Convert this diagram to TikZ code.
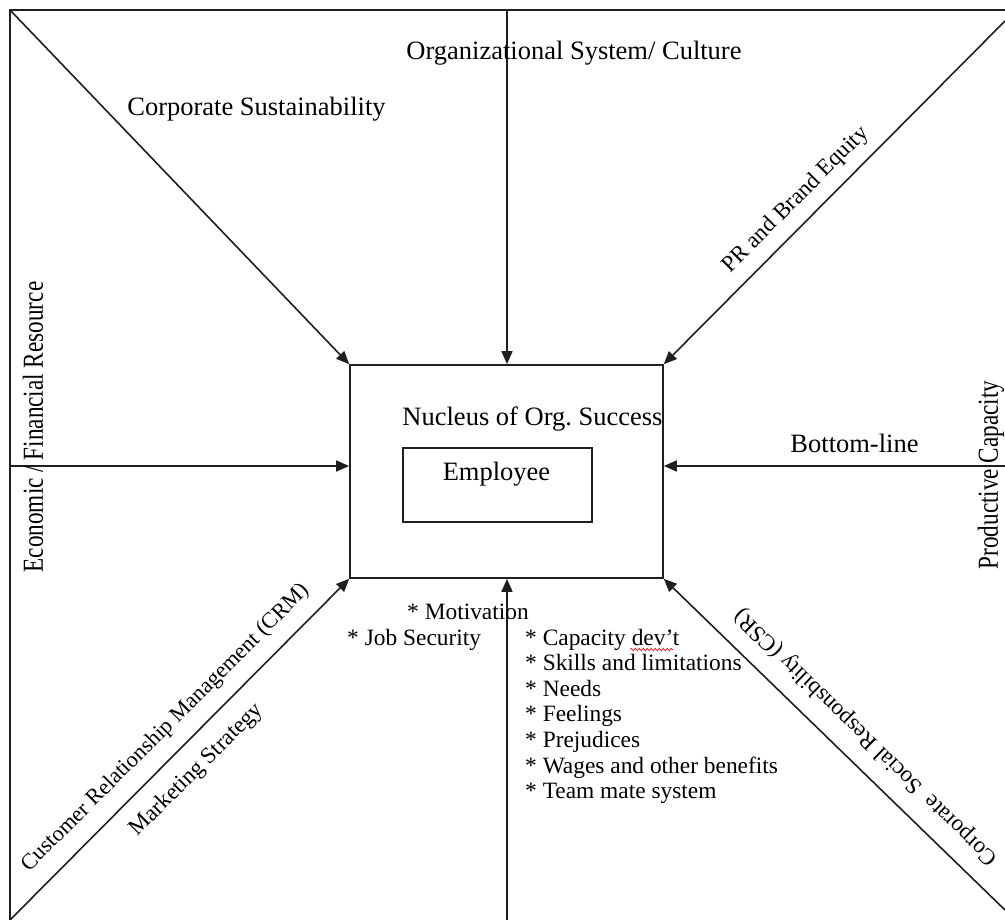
\documentclass[tikz,border=0pt]{standalone}
\usepackage{fontspec}
\setmainfont{Liberation Serif}
\usetikzlibrary{arrows.meta,decorations.pathmorphing}
\frenchspacing
\begin{document}
\begin{tikzpicture}[x=1pt,y=-1pt,
  ln/.style={line width=1.6pt, draw=black!88},
  arr/.style={ln, -{Triangle[length=13pt,width=11pt]}},
  boxed/.style={draw=black!88, line width=1.6pt, inner sep=0pt},
  lbl/.style={font=\fontsize{26.5}{30}\selectfont, inner sep=0pt},
  dlbl/.style={font=\fontsize{23}{28}\selectfont, inner sep=0pt},
  vlbl/.style={font=\fontsize{29}{32}\selectfont, inner sep=0pt, rotate=90},
  lst/.style={font=\fontsize{23.4}{25.6}\selectfont, inner sep=0pt, anchor=base west},
]
\useasboundingbox (0,0) rectangle (1005,920);
\fill[white] (0,0) rectangle (1005,920);

% frame (top and left edges)
\coordinate (TL) at (10,10);
\coordinate (TE) at (1005,10);
\coordinate (BLE) at (10,920);
\draw[ln] (TE) -- (TL) -- (BLE);

% central boxes
\node[boxed, minimum width=313pt, minimum height=213pt] (nuc) at (506.5,471.5) {};
\node[boxed, minimum width=189pt, minimum height=74pt] (emp) at (497.5,485) {};

% arrow start points
\coordinate (T) at (507,10);
\coordinate (TR) at (1005,21);
\coordinate (L) at (10,466);
\coordinate (R) at (1005,466);
\coordinate (BL) at (10,920);
\coordinate (B) at (507,920);
\coordinate (BR) at (1005,910);

\draw[arr] (TL) -- (nuc.north west);
\draw[arr] (T) -- (T |- nuc.north);
\draw[arr] (TR) -- (nuc.north east);
\draw[arr] (L) -- (L -| nuc.west);
\draw[arr] (R) -- (R -| nuc.east);
\draw[arr] (BL) -- (nuc.south west);
\draw[arr] (B) -- (B |- nuc.south);
\draw[arr] (BR) -- (nuc.south east);

% texts in the boxes
\node[lbl, anchor=base] (nuctxt) at (532.5,425) {Nucleus of Org. Success};
\node[lbl, anchor=base] (emptxt) at (496.5,480) {Employee};

% horizontal labels
\node[lbl, anchor=base] (org) at (574,60) {Organizational System/ Culture};
\node[lbl, anchor=base] (cs) at (256.5,116) {Corporate Sustainability};
\node[lbl, anchor=base] (bl) at (854.5,452) {Bottom-line};

% vertical labels
\node[vlbl] (eco) at (33,427) {\scalebox{0.8}[1]{Economic / Financial Resource}};
\node[vlbl] (prod) at (991,475) {\scalebox{0.8}[1]{Productive Capacity}};

% diagonal labels
\node[dlbl, rotate=45] (pr) at (796,200) {PR and Brand Equity};
\node[dlbl, rotate=45] (crm) at (166,728) {\fontsize{22.3}{28}\selectfont Customer Relationship Management (CRM)};
\node[dlbl, rotate=45] (mkt) at (197,770) {Marketing Strategy};
\node[dlbl, rotate=135.8] (csr) at (866,737) {Corporate\ \ Social Responsbility (CSR)};

% lists below the box
\node[lst] (mot) at (407,619) {* Motivation};
\node[lst] (job) at (347,645) {* Job Security};
\node[lst] (l1) at (525,645) {* Capacity dev\symbol{39}t};
\node[lst] (l2) at (525,670.6) {* Skills and limitations};
\node[lst] (l3) at (525,696.2) {* Needs};
\node[lst] (l4) at (525,721.8) {* Feelings};
\node[lst] (l5) at (525,747.4) {* Prejudices};
\node[lst] (l6) at (525,773) {* Wages and other benefits};
\node[lst] (l7) at (525,798.6) {* Team mate system};

% spell-check squiggle
\draw[red, line width=0.6pt, decorate, decoration={snake, amplitude=1.3pt, segment length=4pt}] (630,649.5) -- (673,649.5);
\end{tikzpicture}
\end{document}
